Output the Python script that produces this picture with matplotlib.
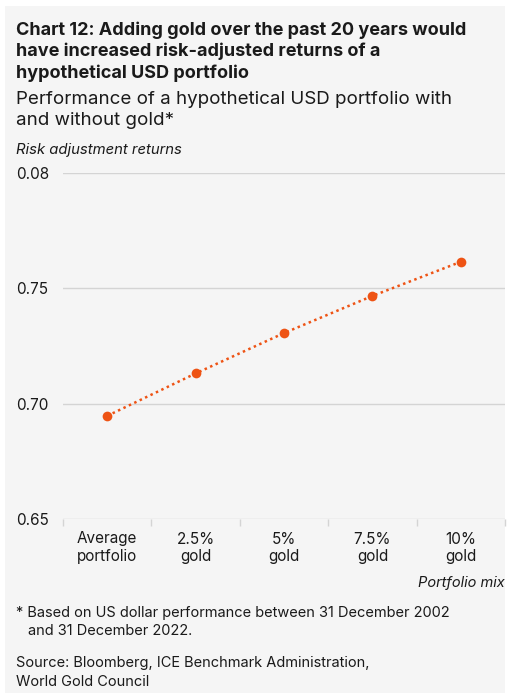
import matplotlib.pyplot as plt
from matplotlib.patches import Rectangle

# Dados
categorias = ["Average\nportfolio", "2.5%\ngold", "5%\ngold", "7.5%\ngold", "10%\ngold"]
retornos = [0.6947, 0.7131, 0.7306, 0.7467, 0.7615]
y_ticks = [0.65, 0.70, 0.75, 0.80]
y_tick_labels = ["0.65", "0.70", "0.75", "0.08"]

W, H = 508, 698
fonte = "Inter"
cor_linha = "#ee5314"
cor_texto = "#1a1a1a"
cor_grade = "#d4d4d4"
cor_fundo = "#f5f5f5"

plt.rcParams["font.family"] = [fonte, "DejaVu Sans"]

fig = plt.figure(figsize=(W / 100, H / 100), dpi=100)
fig.patch.set_facecolor("white")
fig.patches.append(Rectangle((5 / W, 1 - 693 / H), 500 / W, 687 / H,
                             transform=fig.transFigure, facecolor=cor_fundo,
                             edgecolor="none", zorder=-5))


def px(x, y):
    return x / W, 1 - y / H


# Título e subtítulo
titulo = ["Chart 12: Adding gold over the past 20 years would",
          "have increased risk-adjusted returns of a",
          "hypothetical USD portfolio"]
for i, linha in enumerate(titulo):
    fig.text(*px(16, 30 + i * 21.5), linha, fontsize=13, fontweight="bold",
             color=cor_texto, va="center", ha="left")
subtitulo = ["Performance of a hypothetical USD portfolio with",
             "and without gold*"]
for i, linha in enumerate(subtitulo):
    fig.text(*px(16, 99 + i * 21.5), linha, fontsize=13.5, color=cor_texto,
             va="center", ha="left")

fig.text(*px(16, 150), "Risk adjustment returns", fontsize=10.7, style="italic",
         color=cor_texto, va="center", ha="left")

# Eixos
ax = fig.add_axes([63 / W, 1 - 519 / H, 442 / W, (519 - 173) / H])
ax.set_facecolor("none")
x = list(range(len(categorias)))
ax.plot(x, retornos, color=cor_linha, linestyle=(0, (1, 1.4)), linewidth=1.8,
        marker="o", markersize=7, markeredgewidth=0, zorder=3)

ax.set_xlim(-0.5, len(categorias) - 0.5)
ax.set_ylim(0.65, 0.80)
ax.set_yticks(y_ticks)
ax.set_yticklabels(y_tick_labels, fontsize=11, color=cor_texto, ha="left")
ax.tick_params(axis="y", length=0, pad=47 * 0.72)
ax.grid(axis="y", color=cor_grade, linewidth=1)
ax.set_axisbelow(True)

ax.set_xticks(x)
ax.set_xticklabels(categorias, fontsize=11, color=cor_texto, linespacing=1.2)
ax.set_xticks([i - 0.5 for i in range(len(categorias) + 1)], minor=True)
ax.tick_params(axis="x", which="major", length=0, pad=9)
ax.tick_params(axis="x", which="minor", length=5, color=cor_grade, width=1)

for lado in ["top", "right", "left", "bottom"]:
    ax.spines[lado].set_visible(False)

fig.text(*px(505, 583), "Portfolio mix", fontsize=10.5, style="italic",
         color=cor_texto, va="center", ha="right")

# Notas
fig.text(*px(16, 613), "* Based on US dollar performance between 31 December 2002",
         fontsize=10.5, color=cor_texto, va="center", ha="left")
fig.text(*px(28, 631), "and 31 December 2022.", fontsize=10.5, color=cor_texto,
         va="center", ha="left")
fig.text(*px(16, 663), "Source: Bloomberg, ICE Benchmark Administration,",
         fontsize=10.5, color=cor_texto, va="center", ha="left")
fig.text(*px(16, 682), "World Gold Council", fontsize=10.5, color=cor_texto,
         va="center", ha="left")

fig.savefig("out.png", dpi=100)
